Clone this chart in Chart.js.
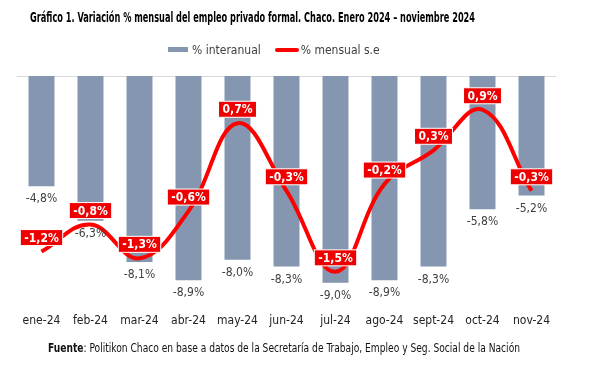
<!DOCTYPE html>
<html>
<head>
<meta charset="utf-8">
<script src="https://cdn.jsdelivr.net/npm/chart.js@4"></script>
<style>
  body { margin: 0; background: #fff; }
  #wrap { position: relative; width: 593px; height: 366px; font-family: "Liberation Sans Narrow", "DejaVu Sans Condensed", Arial, sans-serif; color: #000; }
  #chart { position: absolute; left: 0; top: 0; }
  .fit { position: absolute; white-space: nowrap; transform-origin: 0 50%; }
  #title { left: 30px; top: 9px; font-size: 14px; font-weight: bold; }
  #legend { position: absolute; left: 168px; top: 42px; font-size: 12px; color: #404040; white-space: nowrap; }
  #legend span { display: inline-block; vertical-align: middle; }
  .sw-bar { width: 20px; height: 5px; background: #8496b0; margin-right: 4px; }
  .sw-line { width: 24px; height: 4px; background: #ff0000; border-radius: 2px; margin: 0 2px 0 14px; }
  #footer { left: 48px; top: 341px; font-size: 12px; color: #111; }
</style>
</head>
<body>
<div id="wrap">
  <canvas id="chart" width="593" height="366"></canvas>
  <div id="title" class="fit" data-w="445">Gráfico 1. Variación % mensual del empleo privado formal. Chaco. Enero 2024 – noviembre 2024</div>
  <div id="legend"><span class="sw-bar"></span><span>% interanual</span><span class="sw-line"></span><span>% mensual s.e</span></div>
  <div id="footer" class="fit" data-w="472"><b>Fuente</b>: Politikon Chaco en base a datos de la Secretaría de Trabajo, Empleo y Seg. Social de la Nación</div>
</div>
<script>
const months = ['ene-24', 'feb-24', 'mar-24', 'abr-24', 'may-24', 'jun-24', 'jul-24', 'ago-24', 'sept-24', 'oct-24', 'nov-24'];
const interanual = [-4.8, -6.3, -8.1, -8.9, -8.0, -8.3, -9.0, -8.9, -8.3, -5.8, -5.2];
const mensual = [-1.2, -0.8, -1.3, -0.6, 0.7, -0.3, -1.5, -0.2, 0.3, 0.9, -0.3];

const FONT = '"Liberation Sans Narrow", "DejaVu Sans Condensed", Arial, sans-serif';

// squeeze title / footer to the width they take in the original
document.querySelectorAll('.fit').forEach(el => {
    const w = el.getBoundingClientRect().width;
    el.style.transform = 'scaleX(' + (el.dataset.w / w) + ')';
});

function fmt(v) {
    return v.toFixed(1).replace('.', ',') + '%';
}

// value labels: grey under the bars, red boxes over the line
const valueLabels = {
    id: 'valueLabels',
    afterDatasetsDraw(chart) {
        const ctx = chart.ctx;
        ctx.save();
        ctx.textAlign = 'center';
        ctx.textBaseline = 'middle';

        // bars
        ctx.font = '12px ' + FONT;
        ctx.fillStyle = '#404040';
        chart.getDatasetMeta(0).data.forEach((bar, i) => {
            ctx.fillText(fmt(interanual[i]), bar.x, bar.y + 13);
        });

        // line
        ctx.font = 'bold 12px ' + FONT;
        chart.getDatasetMeta(1).data.forEach((pt, i) => {
            const txt = fmt(mensual[i]);
            const w = ctx.measureText(txt).width + 8;
            const h = 16;
            const y = pt.y - 14;
            ctx.fillStyle = '#ee0000';
            ctx.strokeStyle = '#ffffff';
            ctx.lineWidth = 1;
            ctx.fillRect(pt.x - w / 2, y - h / 2, w, h);
            ctx.strokeRect(pt.x - w / 2, y - h / 2, w, h);
            ctx.fillStyle = '#ffffff';
            ctx.fillText(txt, pt.x, y + 1);
        });
        ctx.restore();
    }
};

new Chart(document.getElementById('chart'), {
    data: {
        labels: months,
        datasets: [{
            type: 'bar',
            label: '% interanual',
            data: interanual,
            backgroundColor: '#8496b0',
            categoryPercentage: 1,
            barPercentage: 0.53,
            yAxisID: 'y',
            order: 2
        }, {
            type: 'line',
            label: '% mensual s.e',
            data: mensual,
            borderColor: '#ff0000',
            borderWidth: 4,
            pointRadius: 0,
            tension: 0.4,
            yAxisID: 'y2',
            order: 1
        }]
    },
    options: {
        responsive: false,
        animation: false,
        layout: { padding: { left: 17, right: 37, top: 76, bottom: 30 } },
        plugins: {
            legend: { display: false },
            tooltip: { enabled: false }
        },
        scales: {
            x: {
                grid: { display: false, drawTicks: false },
                border: { display: false },
                ticks: { color: '#222', padding: 8, font: { family: FONT, size: 12 } }
            },
            y: {
                display: false,
                min: -10,
                max: 0
            },
            y2: {
                display: false,
                min: -2,
                max: 1.4
            }
        }
    },
    plugins: [{
        id: 'topLine',
        beforeDatasetsDraw(chart) {
            const a = chart.chartArea;
            const ctx = chart.ctx;
            ctx.save();
            ctx.strokeStyle = '#d9d9d9';
            ctx.lineWidth = 1;
            ctx.beginPath();
            ctx.moveTo(a.left, a.top + 0.5);
            ctx.lineTo(a.right, a.top + 0.5);
            ctx.stroke();
            ctx.restore();
        }
    }, valueLabels]
});
</script>
</body>
</html>
